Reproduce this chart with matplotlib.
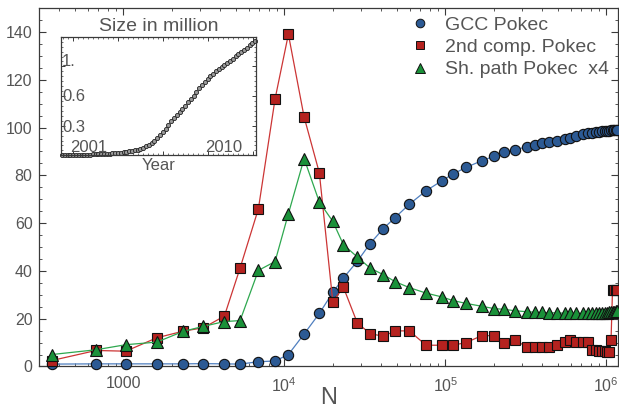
"""Growth of the Pokec network: size of the giant component, size of the
second component and shortest path length against the number of nodes N.
The inset shows the size of the network over the years."""

import numpy as np
import matplotlib
matplotlib.use("Agg")
import matplotlib.pyplot as plt
from matplotlib.lines import Line2D
from matplotlib.ticker import (FixedLocator, LogLocator, MultipleLocator,
                               NullFormatter)

# number of nodes at every snapshot
n_nodes = [359, 676, 1035, 1611, 2359, 3142, 4239, 5306, 6896, 8754,
           10590, 13260, 16490, 19990, 23250, 28390, 34050, 41180, 48700,
           59760, 75860, 95030, 111200, 134500, 168400, 201500, 231600,
           271000, 320400, 360700, 397000, 442700, 496500, 553900, 595000,
           648400, 719300, 769000, 815000, 857000, 901000, 940000, 975000,
           1010000, 1040000, 1070000, 1093000, 1117000, 1141000, 1165000]

gcc = [1.0, 1.1, 1.1, 1.1, 1.1, 1.2, 1.1, 1.0, 2.0, 2.3, 5.0, 13.6, 22.2,
       31.0, 37.0, 44.0, 51.4, 57.7, 62.3, 67.9, 73.5, 77.7, 80.5, 83.3,
       86.1, 88.0, 89.6, 90.6, 92.0, 92.7, 93.4, 93.8, 94.5, 95.1, 95.6,
       96.4, 97.1, 97.5, 97.8, 98.0, 98.2, 98.4, 98.5, 98.6, 98.7, 98.8,
       98.8, 98.9, 98.9, 99.0]

second_comp = [2.5, 6.7, 6.4, 12.0, 14.8, 16.2, 21.1, 41.2, 66.0, 112.0,
               139.0, 104.4, 81.0, 27.1, 33.2, 18.2, 13.8, 12.6, 14.9, 14.9,
               8.9, 8.9, 8.9, 10.0, 12.9, 12.9, 10.0, 11.0, 8.2, 8.2, 8.2,
               8.2, 9.1, 10.1, 10.9, 10.1, 10.1, 10.1, 6.7, 6.7, 6.4, 6.4,
               6.4, 6.2, 6.0, 11.0, 32.0, 32.0, 32.0, 32.0]

# average shortest path (drawn multiplied by 4)
sh_path = [1.25, 1.75, 2.28, 2.55, 3.68, 4.2, 4.7, 4.8, 10.05, 10.98, 15.98,
           21.75, 17.2, 15.18, 12.75, 11.45, 10.3, 9.6, 8.88, 8.25, 7.68,
           7.28, 6.9, 6.6, 6.3, 6.05, 5.98, 5.83, 5.73, 5.68, 5.65, 5.63,
           5.6, 5.58, 5.58, 5.55, 5.55, 5.55, 5.55, 5.58, 5.58, 5.6, 5.6,
           5.63, 5.65, 5.68, 5.7, 5.73, 5.78, 5.83]

# inset: size in million, one value per snapshot between 1999 and 2012
inset_size = [0.000, 0.001, 0.002, 0.002, 0.003, 0.004, 0.004, 0.005, 0.006,
              0.007, 0.008, 0.009, 0.010, 0.011, 0.012, 0.013, 0.015, 0.017,
              0.019, 0.022, 0.025, 0.028, 0.032, 0.036, 0.040, 0.045, 0.052,
              0.059, 0.068, 0.079, 0.091, 0.104, 0.126, 0.150, 0.176, 0.204,
              0.234, 0.270, 0.310, 0.343, 0.374, 0.405, 0.437, 0.469, 0.502,
              0.536, 0.570, 0.603, 0.639, 0.677, 0.713, 0.743, 0.772, 0.800,
              0.827, 0.853, 0.874, 0.895, 0.915, 0.936, 0.958, 0.979, 1.001,
              1.022, 1.043, 1.067, 1.091, 1.114, 1.137, 1.160]
inset_first_year = 1999.25
inset_last_year = 2012.13

labels = ['GCC Pokec', '2nd comp. Pokec', 'Sh. path Pokec  x4']

plt.rcParams['font.family'] = ['Liberation Sans', 'DejaVu Sans']
plt.rcParams['mathtext.default'] = 'regular'

TXT = '#555555'
FRAME = '#3a3a3a'
BLUE, BLUE_LINE = '#2c5a94', '#4f7fbf'
RED, RED_LINE = '#b5221f', '#cc3535'
GREEN, GREEN_LINE = '#1a9139', '#2ea84f'
EDGE = '#111111'

fig = plt.figure(figsize=(6.19, 4.11), dpi=100)
ax = fig.add_axes([0.0638, 0.1083, 0.9338, 0.8722])

# blue first, then red and green on top
ax.plot(n_nodes, gcc, '-', color=BLUE_LINE, lw=0.9, marker='o', ms=7.4,
        mfc=BLUE, mec=EDGE, mew=0.8, clip_on=False, zorder=3)
ax.plot(n_nodes, second_comp, '-', color=RED_LINE, lw=0.9, marker='s',
        ms=7.0, mfc=RED, mec=EDGE, mew=0.8, clip_on=False, zorder=4)
ax.plot(n_nodes, np.array(sh_path) * 4, '-', color=GREEN_LINE, lw=0.9,
        marker='^', ms=8.6, mfc=GREEN, mec=EDGE, mew=0.8, clip_on=False,
        zorder=5)

ax.set_xscale('log')
ax.set_xlim(301, 1.174e6)
ax.set_ylim(0, 150)

ax.xaxis.set_major_locator(FixedLocator([1e3, 1e4, 1e5, 1e6]))
ax.set_xticklabels(['1000', '$10^4$', '$10^5$', '$10^6$'])
ax.xaxis.set_minor_locator(LogLocator(base=10, subs=np.arange(2, 10)))
ax.xaxis.set_minor_formatter(NullFormatter())
ax.yaxis.set_major_locator(MultipleLocator(20))
ax.yaxis.set_minor_locator(MultipleLocator(5))

ax.tick_params(which='both', direction='in', top=True, right=True,
               colors=FRAME, labelcolor=TXT, labelsize=11.5)
ax.tick_params(which='major', length=5, width=0.8)
ax.tick_params(which='minor', length=2.5, width=0.6)
ax.tick_params(axis='x', pad=7)
ax.tick_params(axis='y', pad=5)
for sp in ax.spines.values():
    sp.set_color(FRAME)
    sp.set_linewidth(0.9)

ax.set_xlabel('N', fontsize=17, color=TXT)
ax.xaxis.set_label_coords(0.5, -0.058)

handles = [
    Line2D([], [], ls='none', marker='o', ms=6.2, mfc=BLUE, mec=EDGE, mew=0.7),
    Line2D([], [], ls='none', marker='s', ms=6.0, mfc=RED, mec=EDGE, mew=0.7),
    Line2D([], [], ls='none', marker='^', ms=7.0, mfc=GREEN, mec=EDGE, mew=0.7),
]
ax.legend(handles, labels, loc='upper left', bbox_to_anchor=(0.6415, 0.978),
          frameon=False, fontsize=14, handlelength=1.0, handletextpad=0.8,
          labelspacing=0.25, borderpad=0, borderaxespad=0, labelcolor=TXT)

# inset with the size of the network in time
axi = fig.add_axes([0.0985, 0.622, 0.3151, 0.2885])
inset_years = np.linspace(inset_first_year, inset_last_year, len(inset_size))
axi.plot(inset_years, inset_size, 'o', ls='none', ms=3.0, mfc='#9a9a9a',
         mec='#222222', mew=0.6, clip_on=False)
axi.set_xlim(1999.18, 2012.18)
axi.set_ylim(0, 1.2)
axi.xaxis.set_major_locator(FixedLocator([2000, 2003, 2006, 2009, 2012]))
axi.xaxis.set_minor_locator(MultipleLocator(1 / 3))
axi.yaxis.set_major_locator(MultipleLocator(0.3))
axi.yaxis.set_minor_locator(MultipleLocator(0.05))
axi.tick_params(which='both', direction='in', top=True, right=True,
                colors=FRAME, labelbottom=False, labelleft=False)
axi.tick_params(which='major', length=3, width=0.7)
axi.tick_params(which='minor', length=1.5, width=0.5)
for sp in axi.spines.values():
    sp.set_color(FRAME)
    sp.set_linewidth(0.9)

axi.set_title('Size in million', fontsize=14, color=TXT, pad=4)
axi.set_xlabel('Year', fontsize=12, color=TXT, labelpad=2)
for val, txt in [(0.95, '1.'), (0.6, '0.6'), (0.28, '0.3')]:
    axi.text(1999.25, val, txt, fontsize=12, color=TXT, ha='left',
             va='center')
for yr, txt in [(2001.05, '2001'), (2010.0, '2010')]:
    axi.text(yr, 0.075, txt, fontsize=12, color=TXT, ha='center',
             va='center')

fig.savefig('out.png', dpi=100)
